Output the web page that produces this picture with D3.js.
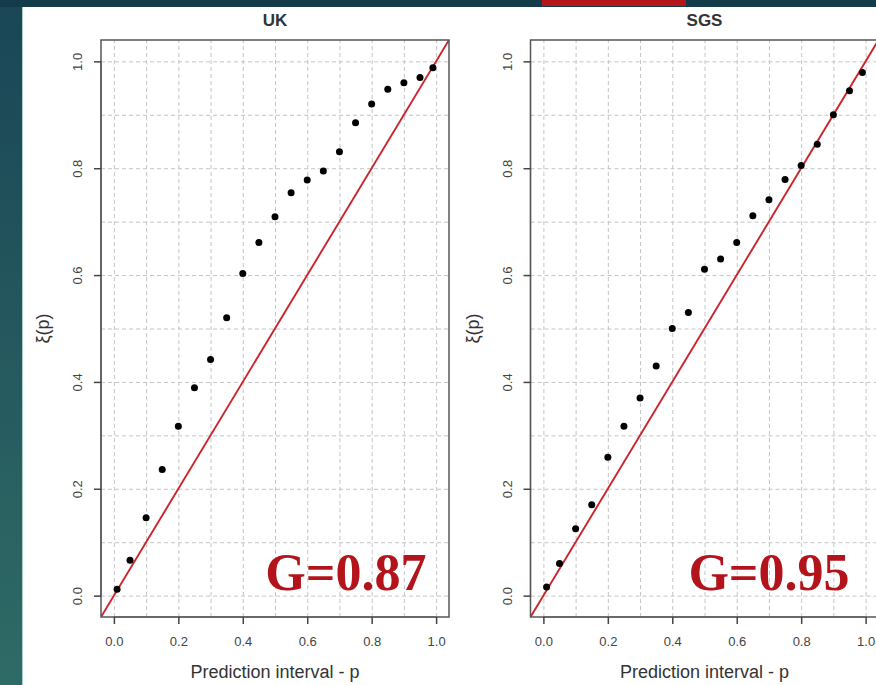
<!DOCTYPE html>
<html>
<head>
<meta charset="utf-8">
<script src="https://cdn.jsdelivr.net/npm/d3@7"></script>
<style>
  body { margin: 0; background: #ffffff; }
  .tick-label { font-family: "Liberation Sans", Arial, sans-serif; font-size: 13px; fill: #444; }
  .axis-title { font-family: "Liberation Sans", Arial, sans-serif; font-size: 18px; fill: #333; }
  .panel-title { font-family: "Liberation Sans", Arial, sans-serif; font-size: 17px; font-weight: bold; fill: #333; }
  .g-label { font-family: "Liberation Serif", "Times New Roman", serif; font-size: 52px; font-weight: bold; fill: #b3141b; }
</style>
</head>
<body>
<div class="chart"></div>
<script>
// Data
var probs = [0.01, 0.05, 0.10, 0.15, 0.20, 0.25, 0.30, 0.35, 0.40, 0.45, 0.50,
             0.55, 0.60, 0.65, 0.70, 0.75, 0.80, 0.85, 0.90, 0.95, 0.99];

var ukObserved = [0.012, 0.066, 0.146, 0.236, 0.317, 0.389, 0.442, 0.520, 0.603, 0.661, 0.709,
                  0.754, 0.778, 0.795, 0.831, 0.885, 0.920, 0.948, 0.960, 0.970, 0.988];

var sgsObserved = [0.016, 0.060, 0.125, 0.170, 0.259, 0.317, 0.370, 0.430, 0.500, 0.530, 0.611,
                   0.630, 0.661, 0.711, 0.741, 0.779, 0.805, 0.845, 0.900, 0.945, 0.979];

var panelNames = ["UK", "SGS"];
var gLabels = ["G=0.87", "G=0.95"];

var axisTicks = [0, 0.2, 0.4, 0.6, 0.8, 1.0];
var gridTicks = [0, 0.1, 0.2, 0.3, 0.4, 0.5, 0.6, 0.7, 0.8, 0.9, 1.0];

// Layout
var svgWidth = 876;
var svgHeight = 685;
var boxWidth = 348;
var boxHeight = 577;
var boxTop = 40;
var boxLefts = [101, 530.5];
var gTextX = [0.47, 0.45];   // in data units, where each G label starts
var gTextY = 0.01;

var svg = d3.select(".chart")
  .append("svg")
  .attr("width", svgWidth)
  .attr("height", svgHeight);

// Slide background
var defs = svg.append("defs");
var grad = defs.append("linearGradient")
  .attr("id", "bg")
  .attr("x1", 0).attr("y1", 0).attr("x2", 0).attr("y2", 1);
grad.append("stop").attr("offset", "0%").attr("stop-color", "#1a4656");
grad.append("stop").attr("offset", "100%").attr("stop-color", "#2f6b66");

svg.append("rect")
  .attr("width", svgWidth).attr("height", svgHeight)
  .attr("fill", "url(#bg)");
svg.append("rect")
  .attr("width", svgWidth).attr("height", 7)
  .attr("fill", "#143b4a");
svg.append("rect")
  .attr("x", 542).attr("width", 144).attr("height", 6)
  .attr("fill", "#b5161b");
svg.append("rect")
  .attr("x", 22).attr("y", 7)
  .attr("width", 1).attr("height", svgHeight - 7)
  .attr("fill", "#a9cfcb");
svg.append("rect")
  .attr("x", 23).attr("y", 7)
  .attr("width", svgWidth - 23).attr("height", svgHeight - 7)
  .attr("fill", "#ffffff");

var seriesList = [ukObserved, sgsObserved];

seriesList.forEach(function(values, i) {
  var chart = svg.append("g")
    .attr("transform", "translate(" + boxLefts[i] + "," + boxTop + ")");

  var xScale = d3.scaleLinear().domain([-0.04, 1.04]).range([0, boxWidth]);
  var yScale = d3.scaleLinear().domain([-0.04, 1.04]).range([boxHeight, 0]);

  var clipId = "clip" + i;
  defs.append("clipPath").attr("id", clipId)
    .append("rect").attr("width", boxWidth).attr("height", boxHeight);

  // dashed grid
  var gridX = chart.append("g")
    .attr("transform", "translate(0," + boxHeight + ")")
    .call(d3.axisBottom(xScale).tickValues(gridTicks).tickSize(-boxHeight).tickFormat(""));
  var gridY = chart.append("g")
    .call(d3.axisLeft(yScale).tickValues(gridTicks).tickSize(-boxWidth).tickFormat(""));
  [gridX, gridY].forEach(function(gr) {
    gr.select(".domain").remove();
    gr.selectAll("line")
      .attr("stroke", "#c4c4c4")
      .attr("stroke-width", 1)
      .attr("stroke-dasharray", "4,3");
  });

  // y = x reference line
  chart.append("line")
    .attr("clip-path", "url(#" + clipId + ")")
    .attr("x1", xScale(-0.04)).attr("y1", yScale(-0.04))
    .attr("x2", xScale(1.04)).attr("y2", yScale(1.04))
    .attr("stroke", "#c9252b")
    .attr("stroke-width", 1.9);

  // points
  chart.selectAll("circle")
    .data(values)
    .enter()
    .append("circle")
    .attr("cx", function(d, j) { return xScale(probs[j]); })
    .attr("cy", function(d) { return yScale(d); })
    .attr("r", 3.5)
    .attr("fill", "#000");

  // plot box
  chart.append("rect")
    .attr("width", boxWidth).attr("height", boxHeight)
    .attr("fill", "none")
    .attr("stroke", "#555")
    .attr("stroke-width", 1.5);

  // axes
  var bottomAxis = chart.append("g")
    .attr("transform", "translate(0," + boxHeight + ")")
    .call(d3.axisBottom(xScale).tickValues(axisTicks).tickSize(7).tickPadding(13).tickFormat(d3.format(".1f")));
  var leftAxis = chart.append("g")
    .call(d3.axisLeft(yScale).tickValues(axisTicks).tickSize(7).tickFormat(d3.format(".1f")));

  [bottomAxis, leftAxis].forEach(function(ax) {
    ax.select(".domain").attr("stroke", "#555").attr("stroke-width", 1.2);
    ax.selectAll(".tick line").attr("stroke", "#444").attr("stroke-width", 1.5);
    ax.selectAll("text").attr("class", "tick-label").attr("fill", null).attr("font-size", null).attr("font-family", null);
  });
  bottomAxis.select(".domain").attr("d", "M" + xScale(0) + ",0H" + xScale(1));
  leftAxis.select(".domain").attr("d", "M0," + yScale(0) + "V" + yScale(1));

  // rotated y tick labels, R style
  leftAxis.selectAll(".tick text")
    .attr("x", null).attr("dy", null)
    .attr("text-anchor", "middle")
    .attr("transform", "translate(-19,0) rotate(-90)");

  // titles
  chart.append("text")
    .attr("class", "panel-title")
    .attr("x", boxWidth / 2)
    .attr("y", -14)
    .attr("text-anchor", "middle")
    .text(panelNames[i]);

  chart.append("text")
    .attr("class", "axis-title")
    .attr("x", boxWidth / 2)
    .attr("y", boxHeight + 61)
    .attr("text-anchor", "middle")
    .text("Prediction interval - p");

  chart.append("text")
    .attr("class", "axis-title")
    .attr("transform", "translate(-52," + (boxHeight / 2) + ") rotate(-90)")
    .attr("text-anchor", "middle")
    .text("ξ(p)");

  chart.append("text")
    .attr("class", "g-label")
    .attr("x", xScale(gTextX[i]))
    .attr("y", yScale(gTextY))
    .text(gLabels[i]);
});
</script>
</body>
</html>
